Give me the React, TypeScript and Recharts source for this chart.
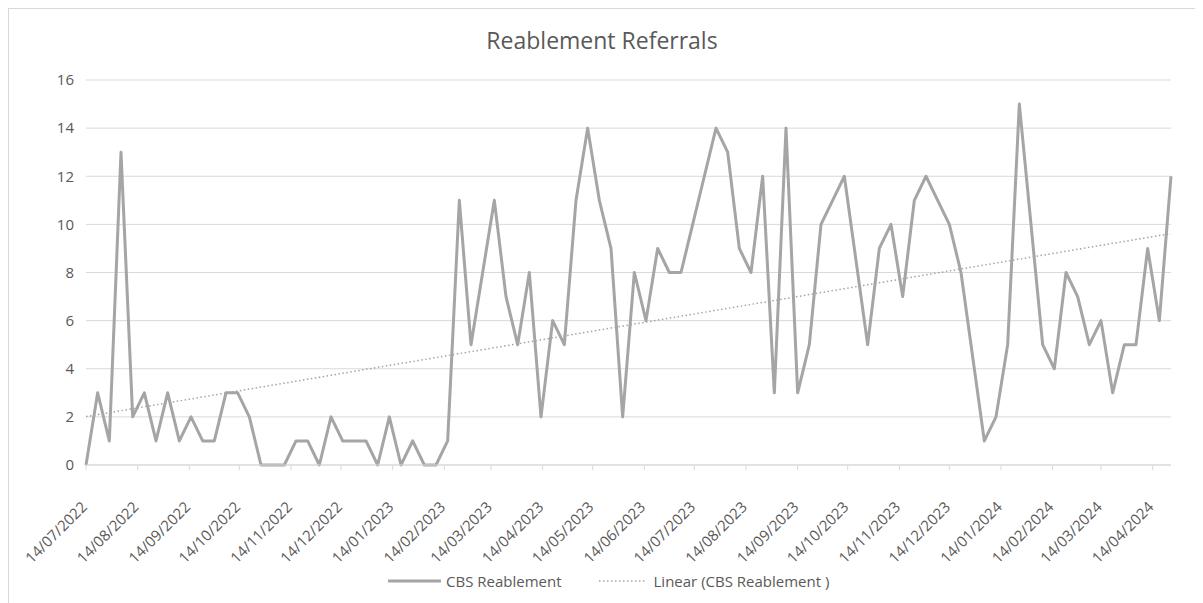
import { LineChart, Line, XAxis, YAxis, CartesianGrid } from "recharts";

// Weekly referral counts, one entry per week from the start date.
// null = no return for that week; the line is joined across the gap.
const startDate = "14/07/2022";
const weeklyReferrals: (number | null)[] = [
  0, 3, 1, 13, 2, 3, 1, 3, 1, 2, 1, 1, 3, 3, 2, 0, 0, 0, 1, 1, 0, 2, 1, 1, 1,
  0, 2, 0, 1, 0, 0, 1, 11, 5, 8, 11, 7, 5, 8, 2, 6, 5, 11, 14, 11, 9, 2, 8, 6,
  9, 8, 8, 10, 12, 14, 13, 9, 8, 12, 3, 14, 3, 5, 10, 11, 12, null, 5, 9, 10,
  7, 11, 12, 11, 10, 8, null, 1, 2, 5, 15, 10, 5, 4, 8, 7, 5, 6, 3, 5, 5, 9, 6,
  12,
];

const monthTicks = [
  "14/07/2022", "14/08/2022", "14/09/2022", "14/10/2022", "14/11/2022",
  "14/12/2022", "14/01/2023", "14/02/2023", "14/03/2023", "14/04/2023",
  "14/05/2023", "14/06/2023", "14/07/2023", "14/08/2023", "14/09/2023",
  "14/10/2023", "14/11/2023", "14/12/2023", "14/01/2024", "14/02/2024",
  "14/03/2024", "14/04/2024",
];

const yTicks = [0, 2, 4, 6, 8, 10, 12, 14, 16];

const SERIES = "CBS Reablement";
const TREND = "Linear (CBS Reablement )";
const GREY = "#a5a5a5";
const TEXT = "#595959";
const FONT = "'Open Sans', sans-serif";

const DAY_MS = 86400000;
const parseDate = (s: string) => {
  const [d, m, y] = s.split("/").map(Number);
  return Date.UTC(y, m - 1, d);
};
const t0 = parseDate(startDate);
const dayOf = (s: string) => Math.round((parseDate(s) - t0) / DAY_MS);

const rows = weeklyReferrals.map((value, i) => ({ day: i * 7, value }));

// least-squares fit on the weeks that have a value (Excel "Linear" trendline)
const known = rows.filter((r) => r.value !== null) as { day: number; value: number }[];
const n = known.length;
const mx = known.reduce((s, r) => s + r.day, 0) / n;
const my = known.reduce((s, r) => s + r.value, 0) / n;
const slope =
  known.reduce((s, r) => s + (r.day - mx) * (r.value - my), 0) /
  known.reduce((s, r) => s + (r.day - mx) ** 2, 0);
const intercept = my - slope * mx;

const data = rows.map((r) => ({ ...r, trend: intercept + slope * r.day }));
const lastDay = rows[rows.length - 1].day;
const tickDays = monthTicks.map(dayOf);
const labelByDay = new Map(monthTicks.map((t) => [dayOf(t), t]));

function DateTick({ x, y, payload }: any) {
  const px = x + 2;
  const py = y + 36;
  return (
    <text
      x={px}
      y={py}
      textAnchor="end"
      fill={TEXT}
      fontSize={15}
      fontFamily={FONT}
      transform={`rotate(-45 ${px} ${py})`}
    >
      {labelByDay.get(payload.value)}
    </text>
  );
}

export default function App() {
  return (
    <div
      style={{
        position: "relative",
        width: 1188,
        height: 600,
        boxSizing: "border-box",
        border: "1px solid #d9d9d9",
        background: "#fff",
        fontFamily: FONT,
      }}
    >
      <div
        style={{
          position: "absolute",
          top: 15,
          left: 0,
          width: "100%",
          textAlign: "center",
          fontSize: 23,
          color: TEXT,
        }}
      >
        Reablement Referrals
      </div>

      <LineChart
        width={1185}
        height={590}
        data={data}
        margin={{ top: 71, right: 23, left: 0, bottom: 0 }}
      >
        <CartesianGrid stroke="#d9d9d9" vertical={false} />
        <XAxis
          dataKey="day"
          type="number"
          domain={[0, lastDay]}
          ticks={tickDays}
          interval={0}
          height={134}
          stroke="#d9d9d9"
          tickSize={5}
          tick={<DateTick />}
        />
        <YAxis
          width={77}
          domain={[0, 16]}
          ticks={yTicks}
          axisLine={false}
          tickLine={false}
          tickMargin={6}
          tick={{ fontSize: 15, fill: TEXT, fontFamily: FONT }}
        />
        <Line
          dataKey="trend"
          name={TREND}
          stroke={GREY}
          strokeWidth={1.5}
          strokeDasharray="1.5 2.5"
          dot={false}
          activeDot={false}
          isAnimationActive={false}
        />
        <Line
          dataKey="value"
          name={SERIES}
          stroke={GREY}
          strokeWidth={3}
          strokeLinejoin="round"
          connectNulls
          dot={false}
          activeDot={false}
          isAnimationActive={false}
        />
      </LineChart>

      <div
        style={{
          position: "absolute",
          top: 562,
          left: 379,
          display: "flex",
          alignItems: "center",
          fontSize: 15,
          color: TEXT,
          whiteSpace: "nowrap",
        }}
      >
        <svg width={53} height={10} style={{ marginRight: 5 }}>
          <line x1={0} y1={5} x2={53} y2={5} stroke={GREY} strokeWidth={3} />
        </svg>
        <span>{SERIES}</span>
        <svg width={46} height={10} style={{ marginLeft: 37, marginRight: 9 }}>
          <line
            x1={0}
            y1={5}
            x2={46}
            y2={5}
            stroke={GREY}
            strokeWidth={1.5}
            strokeDasharray="1.5 2.5"
          />
        </svg>
        <span>{TREND}</span>
      </div>
    </div>
  );
}
